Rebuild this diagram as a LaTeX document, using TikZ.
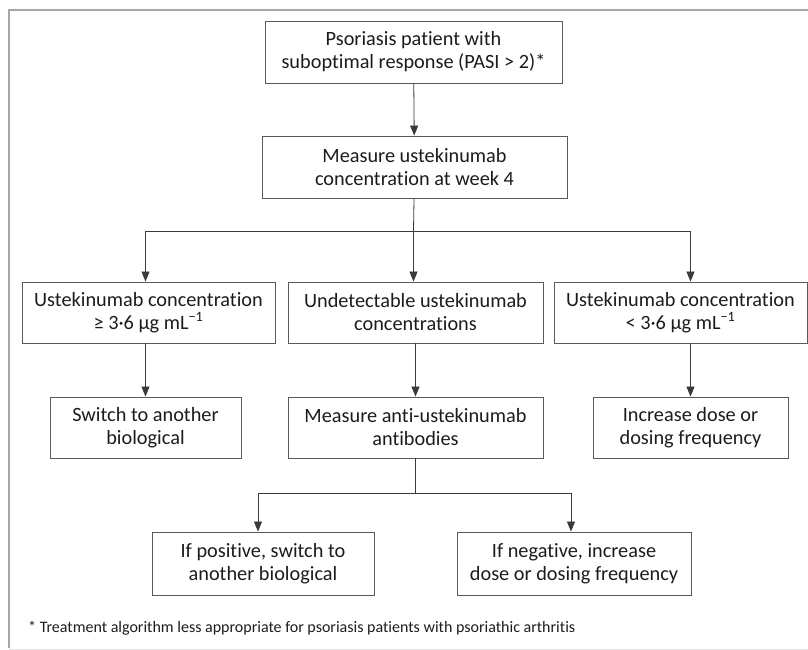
\documentclass[tikz,border=0pt]{standalone}
\usepackage{fontspec}
\setmainfont[Ligatures=NoCommon]{Carlito}
\usetikzlibrary{arrows.meta}
\definecolor{boxgray}{HTML}{5A5A5A}
\definecolor{linegray}{HTML}{3A3A3A}
\definecolor{textgray}{HTML}{1C1C1C}
\definecolor{framegray}{HTML}{A6A6A6}
\definecolor{framelight}{HTML}{E4E4E4}
\begin{document}
\begin{tikzpicture}
		[x=1pt,y=1pt,
		flowbox/.style={rectangle,draw=boxgray,line width=0.9pt,inner sep=0pt,
align=center,text=textgray,font=\fontsize{20.3}{23}\selectfont},
		notestyle/.style={anchor=west,inner sep=0pt,text=textgray,
font=\fontsize{16}{19}\selectfont},
		framestyle/.style={line width=2.5pt,draw=framegray},
		linestyle/.style={-,line width=0.8pt,draw=linegray},
		arrowstyle/.style={linestyle,-{Triangle[length=10pt,width=8pt]}}]
		\useasboundingbox (0,0) rectangle (808,-650);
		\clip (0,0) rectangle (808,-650);
		% frame of the figure
		\draw[framestyle] (8,-10) -- (808,-10);
		\draw[framestyle] (9,-10) -- (9,-648);
		\draw[line width=1pt,draw=framelight] (9,-649) -- (808,-649);
		% boxes
		\node at (413.5,-52) (psor) [flowbox,minimum width=297,minimum height=62]
			{Psoriasis patient with\\suboptimal response (PASI > 2)*};
		\node at (414.5,-167) (measure) [flowbox,minimum width=305,minimum height=62]
			{Measure ustekinumab\\concentration at week 4};
		\node at (148.5,-312.5) (high) [flowbox,minimum width=253,minimum height=61]
			{Ustekinumab concentration\\≥ 3·6 µg mL\textsuperscript{−1}};
		\node at (415.5,-312.5) (undet) [flowbox,minimum width=255,minimum height=61]
			{Undetectable ustekinumab\\concentrations};
		\node at (680.5,-312.5) (low) [flowbox,minimum width=253,minimum height=61]
			{Ustekinumab concentration\\< 3·6 µg mL\textsuperscript{−1}};
		\node at (145.5,-427.5) (switch) [flowbox,minimum width=191,minimum height=61]
			{Switch to another\\biological};
		\node at (415.5,-427.5) (antib) [flowbox,minimum width=255,minimum height=61]
			{Measure anti-ustekinumab\\antibodies};
		\node at (690.5,-427.5) (incr) [flowbox,minimum width=195,minimum height=61]
			{Increase dose or\\dosing frequency};
		\node at (263,-563.5) (pos) [flowbox,minimum width=222,minimum height=63]
			{If positive, switch to\\another biological};
		\node at (574,-563.5) (neg) [flowbox,minimum width=234,minimum height=63]
			{If negative, increase\\dose or dosing frequency};
		\node at (28,-628) (note) [notestyle]
			{* Treatment algorithm less appropriate for psoriasis patients with psoriathic arthritis};
		% connectors
		\coordinate (split1) at (413.5,-231);
		\coordinate (split2) at (415.5,-493);
		\draw[arrowstyle] (psor) -- (measure);
		\draw[linestyle] (measure) -- (split1);
		\draw[arrowstyle] (split1) -| (high.north -| switch);
		\draw[arrowstyle] (split1) -- (split1 |- undet.north);
		\draw[arrowstyle] (split1) -| (low.north -| incr);
		\draw[arrowstyle] (high.south -| switch) -- (switch);
		\draw[arrowstyle] (undet) -- (antib);
		\draw[arrowstyle] (low.south -| incr) -- (incr);
		\draw[linestyle] (antib) -- (split2);
		\draw[arrowstyle] (split2) -| ([xshift=-5]pos.north);
		\draw[arrowstyle] (split2) -| ([xshift=-3]neg.north);
	\end{tikzpicture}
\end{document}
